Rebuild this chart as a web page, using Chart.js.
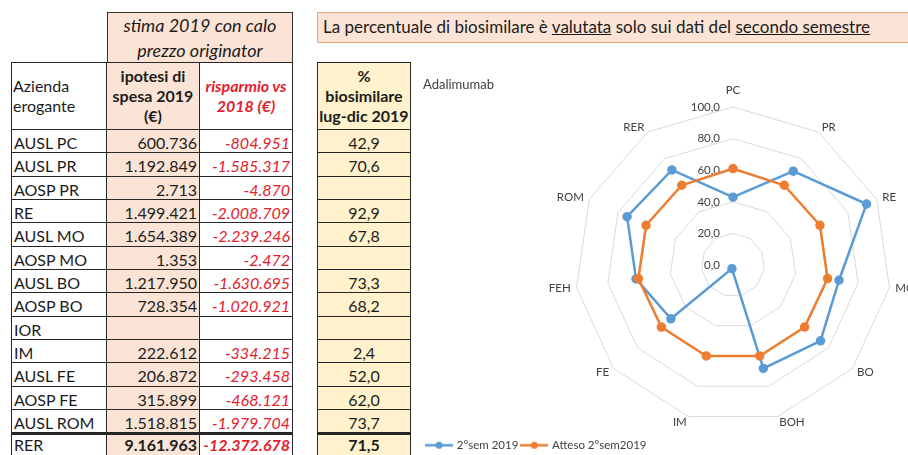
<!DOCTYPE html>
<html lang="it">
<head>
<meta charset="utf-8">
<title>Adalimumab - biosimilare</title>
<script src="https://cdn.jsdelivr.net/npm/chart.js@4.4.1/dist/chart.umd.min.js"></script>
<style>
  html, body { margin: 0; padding: 0; }
  body {
    width: 908px; height: 455px; overflow: hidden; position: relative;
    background: #fff; color: #1c1c1c;
    font-family: Lato, "Open Sans", sans-serif;
  }
  .nota {
    position: absolute; left: 317px; top: 12px; width: 600px; height: 31px;
    box-sizing: border-box; background: #fbe4d5; border: 1px solid #e9a57c;
    font-size: 17px; line-height: 28px; padding-left: 5px; white-space: nowrap;
  }
  .griglia { position: absolute; display: grid; }
  #tabella { left: 11px; top: 12px; grid-template-columns: 96px 93px 93px; }
  #colonnaBio { left: 317px; top: 62px; grid-template-columns: 94px; }
  .cella {
    box-sizing: border-box; font-size: 16px; white-space: nowrap; overflow: hidden;
    border-bottom: 1px solid #262626; border-right: 1px solid #262626;
    line-height: 20px; padding: 3px 2px 0 2px;
  }
  .primo { border-left: 1px solid #262626; }
  .num { text-align: right; }
  .centro { text-align: center; }
  .rosso { color: #e5202b; font-style: italic; }
  .pesca { background: #fbe4d5; }
  .giallo { background: #fff2cc; }
  .intest {
    border-top: 1px solid #262626; display: flex; flex-direction: column;
    justify-content: center; padding: 0 1px;
  }
  .intest.centro { align-items: center; }
  .grassetto { font-weight: bold; }
  .totale { border-top: 2px solid #262626; font-weight: bold; padding-top: 0; }
  .totale.primo { font-weight: normal; }
  .vuota { border: none; }
  .stima {
    grid-column: span 2; border: 1px solid #333; border-bottom: none;
    font-style: italic; font-size: 18px; line-height: 25px; text-align: center;
    display: flex; flex-direction: column; justify-content: center; padding: 0;
  }
  #radar { position: absolute; left: 423px; top: 67px; width: 485px; height: 394px; }
</style>
</head>
<body>
<div class="nota">La percentuale di biosimilare è <u>valutata</u> solo sui dati del <u>secondo semestre</u></div>
<div id="tabella" class="griglia"></div>
<div id="colonnaBio" class="griglia"></div>
<div id="radar"><canvas id="grafico"></canvas></div>

<script>
// dati della tabella
const aziende = ['AUSL PC', 'AUSL PR', 'AOSP PR', 'RE', 'AUSL MO', 'AOSP MO', 'AUSL BO',
                 'AOSP BO', 'IOR', 'IM', 'AUSL FE', 'AOSP FE', 'AUSL ROM', 'RER'];
const spesa2019 = [600736, 1192849, 2713, 1499421, 1654389, 1353, 1217950,
                   728354, null, 222612, 206872, 315899, 1518815, 9161963];
const risparmio = [-804951, -1585317, -4870, -2008709, -2239246, -2472, -1630695,
                   -1020921, null, -334215, -293458, -468121, -1979704, -12372678];
const biosimilare = [42.9, 70.6, null, 92.9, 67.8, null, 73.3,
                     68.2, null, 2.4, 52.0, 62.0, 73.7, 71.5];

// dati del radar
const radarLabels = ['PC', 'PR', 'RE', 'MO', 'BO', 'BOH', 'IM', 'FE', 'FEH', 'ROM', 'RER'];
const sem2 = [42.9, 70.6, 92.9, 67.8, 73.3, 68.2, 2.4, 52.0, 62.0, 73.7, 71.5];
const atteso = [61, 60, 60.5, 60.5, 60, 60, 60, 60, 60.5, 60.5, 60];

const BLU = '#5b9bd5';
const ARANCIO = '#ed7d31';

function migliaia(n) {
  const s = Math.abs(n).toString().replace(/\B(?=(\d{3})+(?!\d))/g, '.');
  return (n < 0 ? '-' : '') + s;
}
function virgola(v) {
  return v.toFixed(1).replace('.', ',');
}

function cella(parent, html, classi) {
  const d = document.createElement('div');
  d.className = 'cella ' + classi;
  d.innerHTML = html;
  parent.appendChild(d);
  return d;
}

// altezze righe come nel foglio
const altezzaRiga = 23.33;
const righe = aziende.map(() => altezzaRiga + 'px').join(' ');

const tab = document.getElementById('tabella');
tab.style.gridTemplateRows = '50px 68px ' + righe;
cella(tab, '', 'vuota');
cella(tab, 'stima 2019 con calo<br>prezzo originator', 'stima pesca');
cella(tab, 'Azienda<br>erogante', 'intest primo');
cella(tab, 'ipotesi di<br>spesa 2019<br>(€)', 'intest centro grassetto pesca');
cella(tab, 'risparmio vs<br>2018 (€)', 'intest centro grassetto rosso');

aziende.forEach((az, i) => {
  const tot = i === aziende.length - 1 ? ' totale' : '';
  cella(tab, az, 'primo' + tot);
  cella(tab, spesa2019[i] === null ? '' : migliaia(spesa2019[i]), 'num pesca' + tot);
  cella(tab, risparmio[i] === null ? '' : migliaia(risparmio[i]), 'num rosso' + tot);
});

const bio = document.getElementById('colonnaBio');
bio.style.gridTemplateRows = '68px ' + righe;
cella(bio, '%<br>biosimilare<br>lug-dic 2019', 'intest centro grassetto giallo primo');
biosimilare.forEach((v, i) => {
  const tot = i === biosimilare.length - 1 ? ' totale grassetto' : '';
  cella(bio, v === null ? '' : virgola(v), 'centro giallo' + tot + ' primoBio');
});
bio.querySelectorAll('.primoBio').forEach(d => { d.style.borderLeft = '1px solid #262626'; });

// segno della legenda: linea con pallino, come in Excel
function segnoLegenda(colore) {
  const c = document.createElement('canvas');
  c.width = 28; c.height = 9;
  const g = c.getContext('2d');
  g.strokeStyle = colore; g.lineWidth = 2.5;
  g.beginPath(); g.moveTo(0, 4.5); g.lineTo(28, 4.5); g.stroke();
  g.fillStyle = colore;
  g.beginPath(); g.arc(14, 4.5, 3.5, 0, Math.PI * 2); g.fill();
  return c;
}
const segni = [segnoLegenda(BLU), segnoLegenda(ARANCIO)];

// centro e raggio del radar, in coordinate della pagina
const CENTRO_X = 733, CENTRO_Y = 265, RAGGIO = 158;
const box = document.getElementById('radar');

// etichette dei valori e delle aziende attorno al radar
const etichetteRadar = {
  id: 'etichetteRadar',
  beforeDatasetsDraw(chart) {
    const s = chart.scales.r, ctx = chart.ctx;
    ctx.save();
    ctx.font = '11.5px Lato';
    ctx.fillStyle = '#404040';
    ctx.textAlign = 'right';
    ctx.textBaseline = 'middle';
    s.ticks.forEach(t => {
      ctx.fillText(virgola(t.value), s.xCenter - 13, s.yCenter - s.getDistanceFromCenterForValue(t.value));
    });
    chart.data.labels.forEach((lab, i) => {
      const p = s.getPointPosition(i, s.drawingArea + 6);
      const dx = p.x - s.xCenter;
      if (Math.abs(dx) < 1) {
        const q = s.getPointPosition(i, s.drawingArea + 17);
        ctx.textAlign = 'center';
        ctx.fillText(lab, q.x, q.y);
      } else {
        ctx.textAlign = dx > 0 ? 'left' : 'right';
        ctx.fillText(lab, p.x, p.y);
      }
    });
    ctx.restore();
  }
};

new Chart(document.getElementById('grafico'), {
  type: 'radar',
  data: {
    labels: radarLabels,
    datasets: [{
      label: '2°sem 2019',
      data: sem2,
      borderColor: BLU, backgroundColor: BLU,
      pointBackgroundColor: BLU, pointBorderColor: BLU,
      borderWidth: 2.5, pointRadius: 3.5, fill: false, order: 1
    }, {
      label: 'Atteso 2°sem2019',
      data: atteso,
      borderColor: ARANCIO, backgroundColor: ARANCIO,
      pointBackgroundColor: ARANCIO, pointBorderColor: ARANCIO,
      borderWidth: 2.5, pointRadius: 3.5, fill: false, order: 0
    }]
  },
  options: {
    responsive: true,
    maintainAspectRatio: false,
    animation: false,
    devicePixelRatio: 1,
    scales: {
      r: {
        min: 0, max: 100,
        ticks: { display: false, stepSize: 20 },
        pointLabels: { display: false },
        angleLines: { display: false },
        grid: { color: '#d9d9d9', lineWidth: 1 },
        afterFit(s) {
          s.xCenter = CENTRO_X - box.offsetLeft;
          s.yCenter = CENTRO_Y - box.offsetTop;
          s.drawingArea = RAGGIO;
        }
      }
    },
    plugins: {
      title: {
        display: true, text: 'Adalimumab', align: 'start', color: '#404040',
        font: { family: 'Lato', size: 13, weight: 'normal' },
        padding: { top: 10, bottom: 4 }
      },
      legend: {
        position: 'bottom', align: 'start',
        labels: {
          color: '#404040', font: { family: 'Lato', size: 11.5 },
          padding: 4, usePointStyle: true, pointStyleWidth: 24,
          generateLabels(chart) {
            const items = Chart.defaults.plugins.legend.labels.generateLabels(chart);
            items.sort((a, b) => a.datasetIndex - b.datasetIndex);
            items.forEach(it => { it.pointStyle = segni[it.datasetIndex]; });
            return items;
          }
        }
      },
      tooltip: { enabled: false }
    }
  },
  plugins: [etichetteRadar]
});
</script>
</body>
</html>
